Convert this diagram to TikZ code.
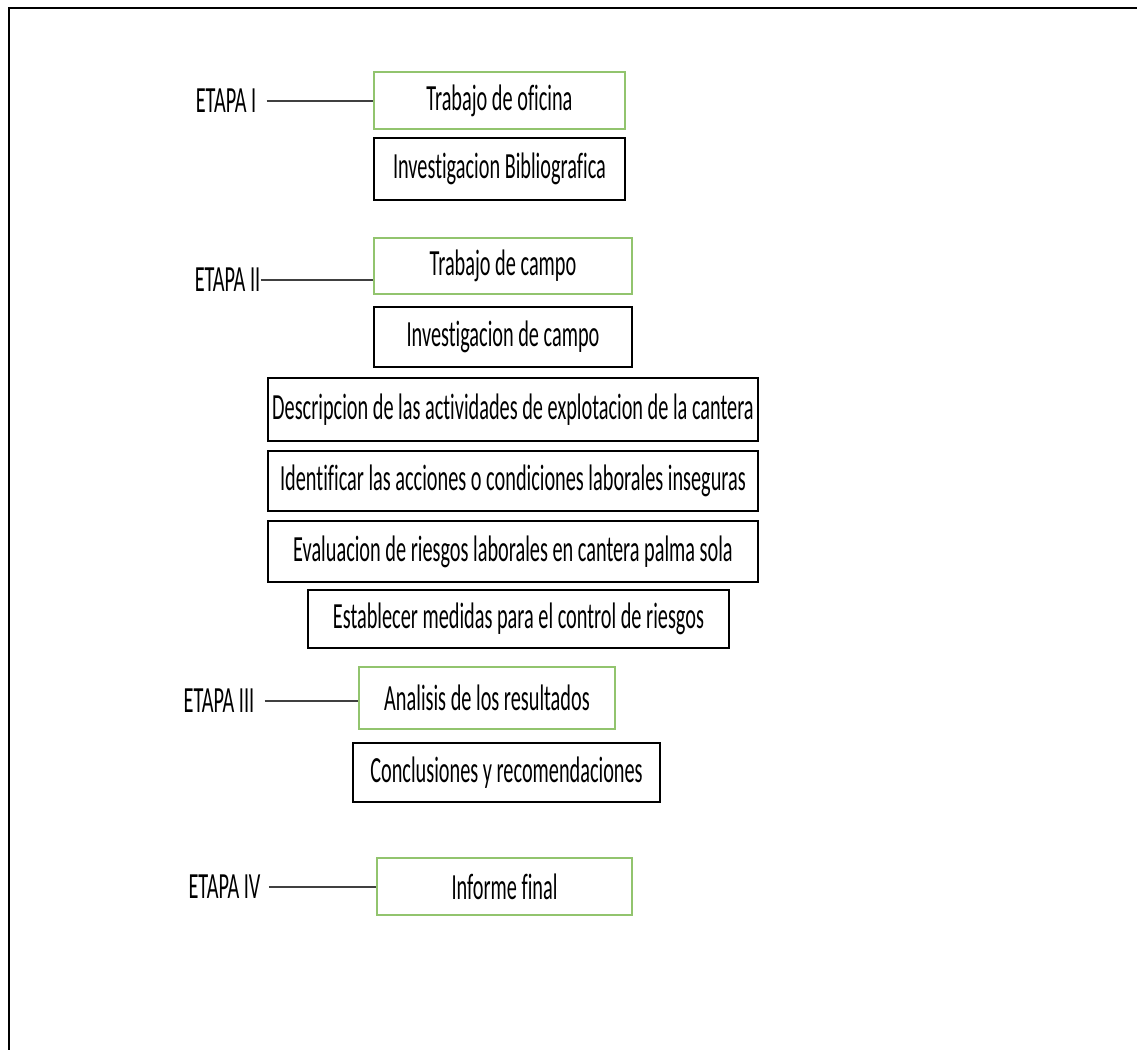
\documentclass[tikz,border=0pt]{standalone}
\usepackage{fontspec}
\setmainfont{Carlito}[FakeStretch=0.55, Ligatures={NoCommon}]
\definecolor{verde}{RGB}{146,196,110}
\tikzset{
 caja/.style={draw=black, line width=1.1pt, minimum height=#1, inner sep=0pt},
 cajav/.style={draw=verde, line width=0.9pt, minimum height=#1, inner sep=0pt},
 etapa/.style={inner sep=0pt, anchor=center},
 linea/.style={draw=black!75, line width=0.6pt}
}
\begin{document}
\begin{tikzpicture}[x=0.02cm, y=-0.02cm, font=\fontsize{21}{24}\selectfont]

\useasboundingbox (0,0) rectangle (1137,1050);
\draw [line width=1.6pt] (9,1050) -- (9,8) -- (1137,8);

% etapa I
 \node [cajav=57*0.02cm, minimum width=251*0.02cm] (ofi) at (499.5,100.5) {Trabajo de oficina};
 \node [caja=62*0.02cm, minimum width=251*0.02cm] (biblio) at (499.5,169) {Investigacion Bibliografica};

% etapa II
 \node [cajav=56*0.02cm, minimum width=258*0.02cm] (campo) at (503,266) {Trabajo de campo};
 \node [caja=60*0.02cm, minimum width=258*0.02cm] (invcampo) at (503,337) {Investigacion de campo};
 \node [caja=63*0.02cm, minimum width=490*0.02cm] (desc) at (513,409.5) {Descripcion de las actividades de explotacion de la cantera};
 \node [caja=60*0.02cm, minimum width=490*0.02cm] (ident) at (513,481) {Identificar las acciones o condiciones laborales inseguras};
 \node [caja=61*0.02cm, minimum width=490*0.02cm] (eval) at (513,551.5) {Evaluacion de riesgos laborales en cantera palma sola};
 \node [caja=58*0.02cm, minimum width=421*0.02cm] (estab) at (518.5,619) {Establecer medidas para el control de riesgos};

% etapa III
 \node [cajav=62*0.02cm, minimum width=256*0.02cm] (anal) at (487,698) {Analisis de los resultados};
 \node [caja=59*0.02cm, minimum width=307*0.02cm] (concl) at (506.5,772.5) {Conclusiones y recomendaciones};

% etapa IV
 \node [cajav=57*0.02cm, minimum width=255*0.02cm] (inf) at (504.5,886.5) {Informe final};

 \node [etapa] (e1) at (226,101) {ETAPA I};
 \node [etapa] (e2) at (227.5,280) {ETAPA II};
 \node [etapa] (e3) at (219,701) {ETAPA III};
 \node [etapa] (e4) at (224.5,887) {ETAPA IV};

\draw [linea] ([xshift=10*0.02cm]e1.east) -- (e1.east -| ofi.west);
\draw [linea] (e2.east) -- (e2.east -| campo.west);
\draw [linea] ([xshift=10*0.02cm]e3.east) -- (e3.east -| anal.west);
\draw [linea] ([xshift=8*0.02cm]e4.east) -- (e4.east -| inf.west);

\end{tikzpicture}
\end{document}
